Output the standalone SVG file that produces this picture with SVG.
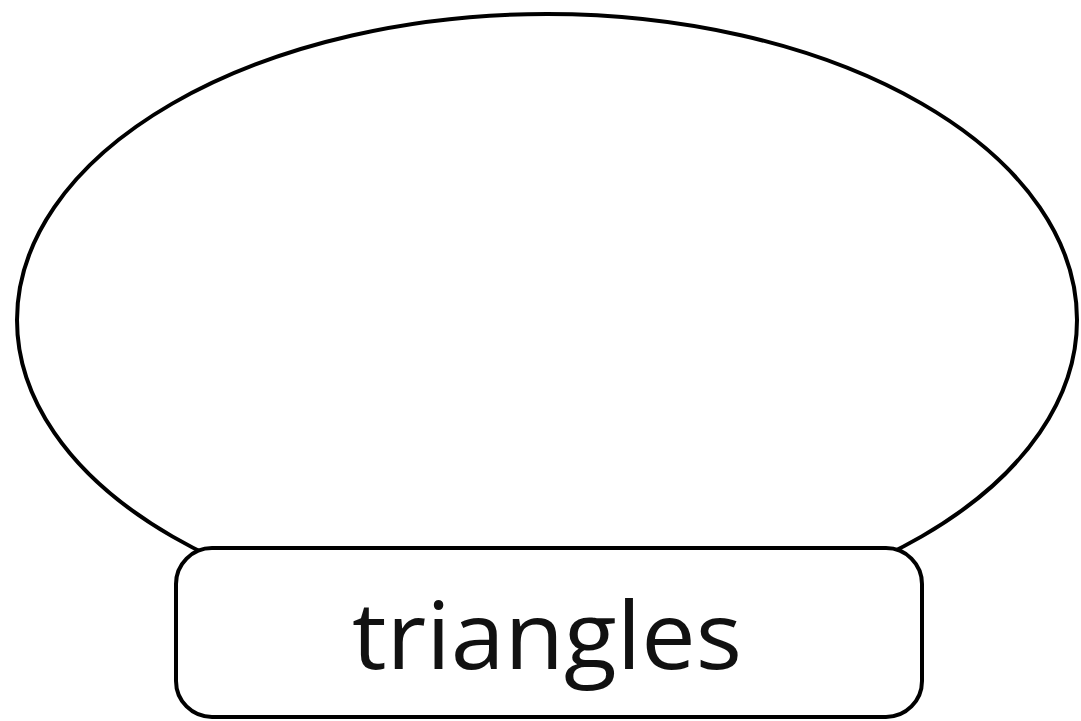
<svg xmlns="http://www.w3.org/2000/svg" width="1081" height="721" viewBox="0 0 1081 721">
<style>
.shape{fill:#fff;stroke:#000;stroke-width:4}
.label{font-family:"Open Sans","Noto Sans",sans-serif;font-size:94px;fill:#111;text-anchor:middle}
</style>
<rect width="1081" height="721" fill="#fff"/>
<g id="bubble"><ellipse class="shape" cx="547" cy="320" rx="530" ry="306"/></g>
<g id="connectors"></g>
<g id="triangles"><rect class="shape" x="176" y="548" width="746" height="169" rx="36" ry="36"/>
<text class="label" x="547" y="669" textLength="390" lengthAdjust="spacingAndGlyphs">triangles</text></g>
</svg>
